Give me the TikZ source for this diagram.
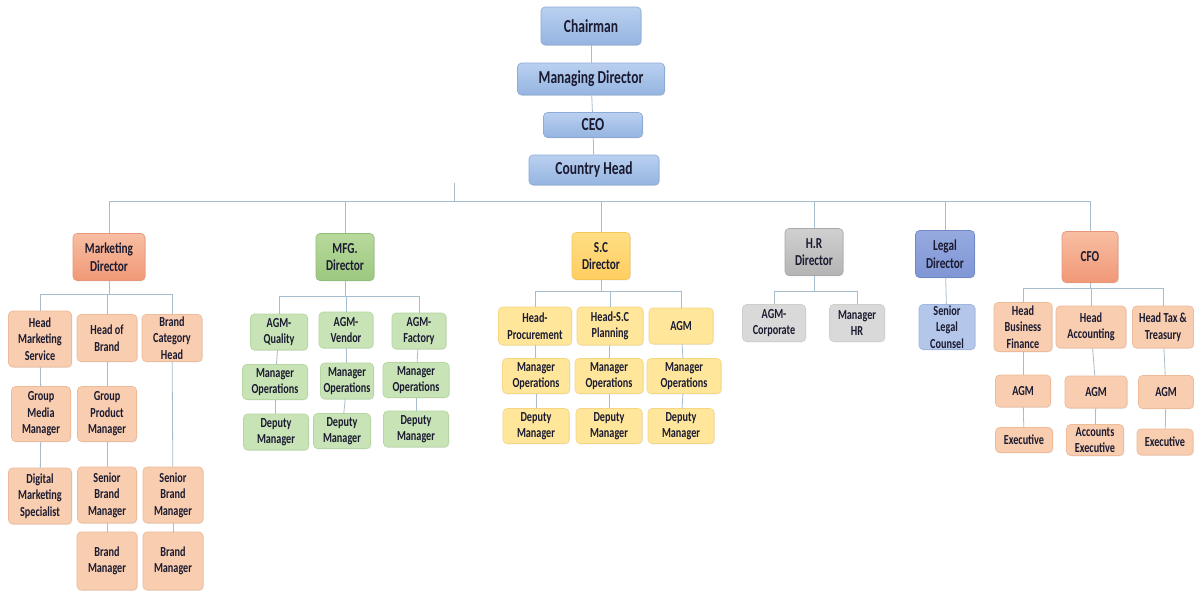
\documentclass[tikz,border=0pt]{standalone}
\usepackage{fontspec}
\setmainfont{Carlito}[FakeStretch=0.74]
\usetikzlibrary{shadows}
\definecolor{txt}{HTML}{1A1A30}
\definecolor{conn}{HTML}{A6BDCE}
\tikzset{
  box/.style={rounded corners=4pt, line width=0.6pt, align=center, inner sep=0pt, text=txt,
    font=\bfseries\fontsize{13.8}{16.6}\selectfont,
    drop shadow={shadow xshift=0.8pt, shadow yshift=-0.8pt, opacity=0.18}},
  sz/.style 2 args={minimum width=#1pt, minimum height=#2pt},
  topb/.style={box, top color={rgb,255:red,186;green,208;blue,240},
    bottom color={rgb,255:red,148;green,180;blue,224}, draw={rgb,255:red,140;green,170;blue,214},
    font=\bfseries\fontsize{18.3}{21}\selectfont},
  dirf/.style={font=\bfseries\fontsize{15.2}{17.5}\selectfont},
  orD/.style={box, dirf, top color={rgb,255:red,248;green,190;blue,162}, bottom color={rgb,255:red,240;green,152;blue,118}, draw={rgb,255:red,232;green,150;blue,120}},
  orS/.style={box, fill={rgb,255:red,248;green,205;blue,176}, draw={rgb,255:red,238;green,186;blue,152}},
  grD/.style={box, dirf, top color={rgb,255:red,184;green,217;blue,156}, bottom color={rgb,255:red,156;green,200;blue,128}, draw={rgb,255:red,142;green,190;blue,118}},
  grS/.style={box, fill={rgb,255:red,200;green,227;blue,182}, draw={rgb,255:red,181;green,214;blue,160}},
  ylD/.style={box, dirf, top color={rgb,255:red,255;green,222;blue,132}, bottom color={rgb,255:red,255;green,206;blue,96}, draw={rgb,255:red,244;green,198;blue,86}},
  ylS/.style={box, fill={rgb,255:red,255;green,230;blue,154}, draw={rgb,255:red,246;green,214;blue,128}},
  gyD/.style={box, dirf, top color={rgb,255:red,208;green,208;blue,208}, bottom color={rgb,255:red,180;green,180;blue,180}, draw={rgb,255:red,168;green,168;blue,168}},
  gyS/.style={box, fill={rgb,255:red,217;green,217;blue,217}, draw={rgb,255:red,206;green,206;blue,206}},
  lgD/.style={box, dirf, top color={rgb,255:red,150;green,170;blue,224}, bottom color={rgb,255:red,128;green,150;blue,212}, draw={rgb,255:red,112;green,136;blue,200}},
  lgS/.style={box, fill={rgb,255:red,180;green,198;blue,234}, draw={rgb,255:red,160;green,182;blue,224}},
  cn/.style={draw=conn, line width=0.8pt}
}
\begin{document}
\begin{tikzpicture}[x=1pt,y=-1pt]
\useasboundingbox[fill=white] (0,0) rectangle (1194,592);
% top
\node[topb, sz={100}{38}] (ch) at (591,26) {Chairman};
\node[topb, sz={147}{32}] (md) at (591,79) {Managing Director};
\node[topb, sz={99}{25}] (ceo) at (593,125) {CEO};
\node[topb, sz={130}{30}] (cth) at (594,170) {Country Head};
% directors
\node[orD, sz={72}{47}] (mkd) at (109,257) {Marketing\\Director};
\node[grD, sz={58}{47}] (mfd) at (345,257) {MFG.\\Director};
\node[ylD, sz={58}{47}] (scd) at (601,256) {S.C\\Director};
\node[gyD, sz={58}{47}] (hrd) at (814,252) {H.R\\Director};
\node[lgD, sz={59}{47}] (lgd) at (945,254) {Legal\\Director};
\node[orD, sz={56}{51}] (cfo) at (1090,257) {CFO};
% marketing
\node[orS, sz={63}{56}] (hms) at (40,339) {Head\\Marketing\\Service};
\node[orS, sz={60}{47}] (hob) at (107,338) {Head of\\Brand};
\node[orS, sz={60}{47}] (bch) at (172,338) {Brand\\Category\\Head};
\node[orS, sz={59}{55}] (gmm) at (41,414) {Group\\Media\\Manager};
\node[orS, sz={59}{55}] (gpm) at (107,414) {Group\\Product\\Manager};
\node[orS, sz={63}{56}] (dms) at (40,496) {Digital\\Marketing\\Specialist};
\node[orS, sz={59}{56}] (sbma) at (107,495) {Senior\\Brand\\Manager};
\node[orS, sz={60}{56}] (sbmb) at (173,495) {Senior\\Brand\\Manager};
\node[orS, sz={60}{58}] (bma) at (107,561) {Brand\\Manager};
\node[orS, sz={60}{58}] (bmb) at (173,561) {Brand\\Manager};
% mfg
\node[grS, sz={57}{36}] (aq) at (279,332) {AGM-\\Quality};
\node[grS, sz={54}{36}] (av) at (346,330) {AGM-\\Vendor};
\node[grS, sz={54}{36}] (af) at (419,331) {AGM-\\Factory};
\node[grS, sz={65}{35}] (moa) at (275,382) {Manager\\Operations};
\node[grS, sz={53}{36}] (mob) at (347,381) {Manager\\Operations};
\node[grS, sz={66}{35}] (moc) at (416,380) {Manager\\Operations};
\node[grS, sz={65}{36}] (dma) at (276,432) {Deputy\\Manager};
\node[grS, sz={57}{35}] (dmb) at (342,431) {Deputy\\Manager};
\node[grS, sz={65}{36}] (dmc) at (416,429) {Deputy\\Manager};
% s.c
\node[ylS, sz={73}{38}] (hp) at (535,326) {Head-\\Procurement};
\node[ylS, sz={66}{38}] (hsp) at (610,326) {Head-S.C\\Planning};
\node[ylS, sz={64}{36}] (agm) at (681,326) {AGM};
\node[ylS, sz={67}{35}] (soa) at (536,376) {Manager\\Operations};
\node[ylS, sz={68}{35}] (sob) at (609,376) {Manager\\Operations};
\node[ylS, sz={74}{35}] (soc) at (684,376) {Manager\\Operations};
\node[ylS, sz={66}{35}] (sda) at (536,426) {Deputy\\Manager};
\node[ylS, sz={66}{35}] (sdb) at (609,426) {Deputy\\Manager};
\node[ylS, sz={66}{35}] (sdc) at (681,426) {Deputy\\Manager};
% hr & legal
\node[gyS, sz={63}{37}] (agc) at (774,323) {AGM-\\Corporate};
\node[gyS, sz={55}{37}] (mhr) at (857,323) {Manager\\HR};
\node[lgS, sz={56}{45}] (slc) at (947,327) {Senior\\Legal\\Counsel};
% cfo
\node[orS, sz={58}{49}] (hbf) at (1023,327) {Head\\Business\\Finance};
\node[orS, sz={70}{42}] (hac) at (1091,327) {Head\\Accounting};
\node[orS, sz={61}{42}] (htt) at (1163,327) {Head Tax \&\\Treasury};
\node[orS, sz={55}{32}] (aga) at (1023,391) {AGM};
\node[orS, sz={62}{32}] (agb) at (1096,392) {AGM};
\node[orS, sz={55}{33}] (agd) at (1166,392) {AGM};
\node[orS, sz={57}{25}] (exa) at (1024,440) {Executive};
\node[orS, sz={57}{31}] (exb) at (1095,440) {Accounts\\Executive};
\node[orS, sz={56}{26}] (exc) at (1165,442) {Executive};
% bus coordinates
\coordinate (mb) at (0,201);
\coordinate (tk) at (454,183);
\coordinate (mkb) at (0,294);
\coordinate (mfb) at (0,296);
\coordinate (scb) at (0,291);
\coordinate (hrb) at (0,291);
\coordinate (cfb) at (0,288);
% top chain
\draw[cn] (ch) -- (md);
\draw[cn] (md) -- (ceo);
\draw[cn] (ceo) -- (cth);
\draw[cn] (tk) -- (tk |- mb);
% main bus
\draw[cn] (mkd.north) |- (mb -| cfo.north) -- (cfo.north);
\foreach \n in {mfd,scd,hrd,lgd} \draw[cn] (\n.north) -- (\n.north |- mb);
% marketing
\draw[cn] (hms.north) |- (mkb -| bch.north) -- (bch.north);
\draw[cn] (mkd.south) -- (mkd.south |- mkb);
\draw[cn] (hob.north) -- (hob.north |- mkb);
\draw[cn] (hms) -- (gmm); \draw[cn] (gmm) -- (dms);
\draw[cn] (hob) -- (gpm); \draw[cn] (gpm) -- (sbma); \draw[cn] (sbma) -- (bma);
\draw[cn] (bch) -- (sbmb); \draw[cn] (sbmb) -- (bmb);
% mfg
\draw[cn] (aq.north) |- (mfb -| af.north) -- (af.north);
\draw[cn] (mfd.south) -- (mfd.south |- mfb);
\draw[cn] (av.north) -- (av.north |- mfb);
\draw[cn] (aq) -- (moa); \draw[cn] (moa) -- (dma);
\draw[cn] (av) -- (mob); \draw[cn] (mob) -- (dmb);
\draw[cn] (af) -- (moc); \draw[cn] (moc) -- (dmc);
% s.c
\draw[cn] (hp.north) |- (scb -| agm.north) -- (agm.north);
\draw[cn] (scd.south) -- (scd.south |- scb);
\draw[cn] (hsp.north) -- (hsp.north |- scb);
\draw[cn] (hp) -- (soa); \draw[cn] (soa) -- (sda);
\draw[cn] (hsp) -- (sob); \draw[cn] (sob) -- (sdb);
\draw[cn] (agm) -- (soc); \draw[cn] (soc) -- (sdc);
% hr, legal
\draw[cn] (agc.north) |- (hrb -| mhr.north) -- (mhr.north);
\draw[cn] (hrd.south) -- (hrd.south |- hrb);
\draw[cn] (lgd) -- (slc);
% cfo
\draw[cn] (hbf.north) |- (cfb -| htt.north) -- (htt.north);
\draw[cn] (cfo.south) -- (cfo.south |- cfb);
\draw[cn] (hac.north) -- (hac.north |- cfb);
\draw[cn] (hbf) -- (aga); \draw[cn] (aga) -- (exa);
\draw[cn] (hac) -- (agb); \draw[cn] (agb) -- (exb);
\draw[cn] (htt) -- (agd); \draw[cn] (agd) -- (exc);
\end{tikzpicture}
\end{document}
